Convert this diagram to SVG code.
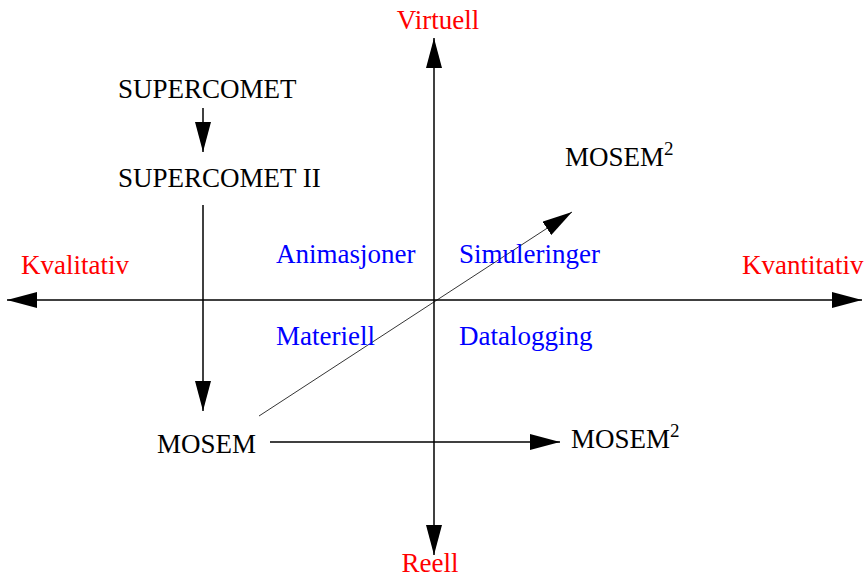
<svg xmlns="http://www.w3.org/2000/svg" width="865" height="578" viewBox="0 0 865 578">
<defs>
<marker id="ah" markerUnits="userSpaceOnUse" markerWidth="30" markerHeight="16" refX="30" refY="8" orient="auto" viewBox="0 0 30 16">
<path d="M0,0 L30,8 L0,16 z" fill="#000"/>
</marker>
</defs>
<style>
text{font-family:"Liberation Serif","Times New Roman",serif;font-size:27px}
.k{fill:#000}
.r{fill:#ff0000}
.b{fill:#0000ff}
.ax{stroke:#000;stroke-width:1.5;fill:none;marker-end:url(#ah)}
.thin{stroke:#000;stroke-width:0.8;fill:none;marker-end:url(#ah)}
.sup{font-size:19px}
</style>
<g id="connectors">
<line class="ax" x1="434" y1="300" x2="434" y2="38"/>
<line class="ax" x1="434" y1="300" x2="434" y2="555"/>
<line class="ax" x1="434" y1="300" x2="7" y2="300"/>
<line class="ax" x1="434" y1="300" x2="862" y2="300"/>
<line class="ax" x1="203" y1="108" x2="203" y2="152"/>
<line class="ax" x1="203" y1="205" x2="203" y2="411"/>
<line class="ax" x1="270" y1="442" x2="560" y2="442"/>
<line class="thin" x1="259" y1="416" x2="572" y2="212"/>
</g>
<g id="virtuell"><text class="r" x="438" y="29" text-anchor="middle">Virtuell</text></g>
<g id="reell"><text class="r" x="430" y="572" text-anchor="middle">Reell</text></g>
<g id="kvalitativ"><text class="r" x="21" y="274">Kvalitativ</text></g>
<g id="kvantitativ"><text class="r" x="742" y="274">Kvantitativ</text></g>
<g id="supercomet"><text class="k" x="118" y="98">SUPERCOMET</text></g>
<g id="supercomet2"><text class="k" x="118" y="187">SUPERCOMET II</text></g>
<g id="mosem"><text class="k" x="157" y="453">MOSEM</text></g>
<g id="mosem2-bottom"><text class="k" x="571" y="448">MOSEM<tspan class="sup" dy="-11">2</tspan></text></g>
<g id="mosem2-top"><text class="k" x="565" y="166">MOSEM<tspan class="sup" dy="-11">2</tspan></text></g>
<g id="animasjoner"><text class="b" x="276" y="263">Animasjoner</text></g>
<g id="simuleringer"><text class="b" x="459" y="263">Simuleringer</text></g>
<g id="materiell"><text class="b" x="276" y="345">Materiell</text></g>
<g id="datalogging"><text class="b" x="459" y="345">Datalogging</text></g>
</svg>
